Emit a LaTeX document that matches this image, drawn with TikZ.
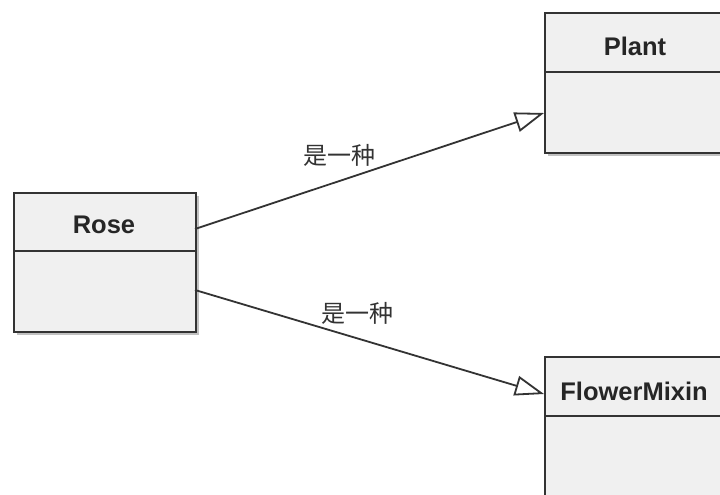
\documentclass[tikz,border=0pt]{standalone}
\usepackage{fontspec}
\setmainfont{Liberation Sans}
\newfontfamily\cjk{Noto Sans CJK SC}
\usetikzlibrary{arrows.meta,shadows,calc}
\definecolor{boxfill}{HTML}{F0F0F0}
\definecolor{edge}{HTML}{333333}
\tikzset{
  classbox/.style={draw=edge, line width=2pt, fill=boxfill, inner sep=0pt,
    anchor=north west,
    drop shadow={shadow xshift=3pt, shadow yshift=-3pt, fill=black!30, opacity=0.8}},
  classname/.style={font=\fontsize{25.5}{28}\selectfont\bfseries, text=black!85, inner sep=0pt},
  divider/.style={draw=edge, line width=2pt},
  isa/.style={draw=edge, line width=1.8pt,
    -{Triangle[length=29pt, width=20pt, fill=white, line width=1.8pt]}},
  relname/.style={font=\cjk\fontsize{24}{26}\selectfont, text=black!80, inner sep=0pt}
}
\begin{document}
\begin{tikzpicture}[x=1pt, y=-1pt]
  \useasboundingbox (0,0) rectangle (720,495);
  \clip (0,0) rectangle (720,495);
  \fill[white] (0,0) rectangle (720,495);

  % class boxes
  \node[classbox, minimum width=182pt, minimum height=139pt] (rose) at (13,192) {};
  \node[classbox, minimum width=220pt, minimum height=140pt] (plant) at (544,12) {};
  \node[classbox, minimum width=220pt, minimum height=180pt] (mixin) at (544,356) {};

  % compartment dividers
  \draw[divider] ([yshift=-59pt]rose.north west) -- ([yshift=-59pt]rose.north east);
  \draw[divider] ([yshift=-60pt]plant.north west) -- ([yshift=-60pt]plant.north east);
  \draw[divider] ([yshift=-60pt]mixin.north west) -- ([yshift=-60pt]mixin.north east);

  % class names
  \node[classname] (rosename) at (104,225) {Rose};
  \node[classname] (plantname) at (635,46) {Plant};
  \node[classname] (mixinname) at (634,391) {FlowerMixin};

  % anchor points of the generalisations
  \coordinate (rosetop) at (195,229);
  \coordinate (rosebot) at (195,290);
  \coordinate (planttip) at (544,113);
  \coordinate (mixintip) at (544,394);

  \draw[isa] (rosetop) -- (planttip)
    node[relname, pos=0.415, anchor=south, yshift=14pt] (rel1) {是一种};
  \draw[isa] (rosebot) -- (mixintip)
    node[relname, pos=0.465, anchor=south, yshift=13pt] (rel2) {是一种};
\end{tikzpicture}
\end{document}
